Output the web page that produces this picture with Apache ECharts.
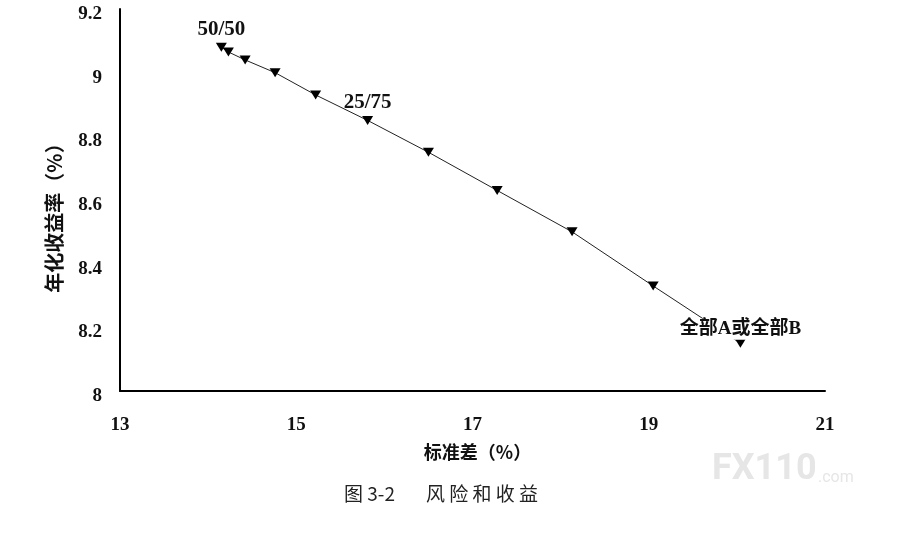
<!DOCTYPE html>
<html>
<head>
<meta charset="utf-8">
<script src="https://cdn.jsdelivr.net/npm/echarts@6/dist/echarts.min.js"></script>
<style>html,body{margin:0;padding:0;background:#fff;}#c{width:908px;height:534px;}</style>
</head>
<body>
<div id="c"></div>
<script>
var stdDev = [14.15, 14.23, 14.42, 14.76, 15.22, 15.81, 16.50, 17.28, 18.13, 19.05, 20.04];
var annualReturn = [9.08, 9.065, 9.04, 9.00, 8.93, 8.85, 8.75, 8.63, 8.50, 8.33, 8.15];
var pointLabels = ['50/50', '', '', '', '', '25/75', '', '', '', '', '全部A或全部B'];
var xTicks = [13, 15, 17, 19, 21];
var yTicks = [8, 8.2, 8.4, 8.6, 8.8, 9, 9.2];

var chart = echarts.init(document.getElementById('c'));
var serif = '"Liberation Serif", "Noto Sans CJK SC", serif';
var data = stdDev.map(function (x, i) {
  var d = { value: [x, annualReturn[i]] };
  if (pointLabels[i]) {
    var last = i === stdDev.length - 1;
    d.label = {
      show: true, formatter: pointLabels[i], position: 'top', distance: last ? -1 : 2,
      fontFamily: serif, fontWeight: 'bold', fontSize: last ? 19 : 21, color: '#111',
      backgroundColor: last ? '#fff' : 'transparent',
      padding: [1, 2]
    };
  }
  return d;
});
chart.setOption({
  animation: false,
  backgroundColor: '#fff',
  grid: { left: 120, right: 83, top: 9, bottom: 143, containLabel: false },
  xAxis: {
    type: 'value', min: 13, max: 21, interval: 2,
    name: '标准差（%）', nameLocation: 'middle', nameGap: 52,
    nameTextStyle: { fontFamily: '"Noto Sans CJK SC"', fontWeight: 'bold', fontSize: 18, color: '#111',
      padding: [0, 0, 0, 10] },
    axisLine: { show: true, lineStyle: { color: '#000', width: 2 } },
    axisTick: { show: false }, splitLine: { show: false },
    axisLabel: { margin: 25, fontFamily: serif, fontWeight: 'bold', fontSize: 19, color: '#111',
      formatter: function (v) { return xTicks.indexOf(v) >= 0 ? String(v) : ''; } }
  },
  yAxis: {
    type: 'value', min: 8, max: 9.2, interval: 0.2,
    name: '年化收益率（%）', nameLocation: 'middle', nameGap: 56, nameRotate: 90,
    nameTextStyle: { fontFamily: '"Noto Sans CJK SC"', fontWeight: 'bold', fontSize: 20, color: '#111',
      padding: [0, 26, 0, 0] },
    axisLine: { show: true, lineStyle: { color: '#000', width: 2 } },
    axisTick: { show: false }, splitLine: { show: false },
    axisLabel: { margin: 18, fontFamily: serif, fontWeight: 'bold', fontSize: 19, color: '#111',
      verticalAlign: 'top', lineHeight: 10,
      formatter: function (v) {
        var r = Math.round(v * 10) / 10;
        return yTicks.indexOf(r) >= 0 ? String(r) : '';
      } }
  },
  series: [{
    type: 'line', data: data, z: 3,
    lineStyle: { color: '#222', width: 1 },
    symbol: 'triangle', symbolRotate: 180, symbolSize: [11, 9],
    itemStyle: { color: '#000' }
  }],
  graphic: [
    { type: 'text', left: 344, top: 484,
      style: { text: '图 3-2', font: '19px "Noto Sans CJK SC"', fill: '#222' } },
    { type: 'text', left: 426, top: 484,
      style: { text: '风 险 和 收 益', font: '19px "Noto Sans CJK SC"', fill: '#222' } },
    { type: 'text', left: 712, top: 452,
      style: { text: 'FX110', font: 'bold 36px "Roboto"', fill: '#e6e6e6' } },
    { type: 'text', left: 818, top: 470,
      style: { text: '.com', font: '16px "Roboto"', fill: '#e6e6e6' } }
  ]
});
</script>
</body>
</html>
